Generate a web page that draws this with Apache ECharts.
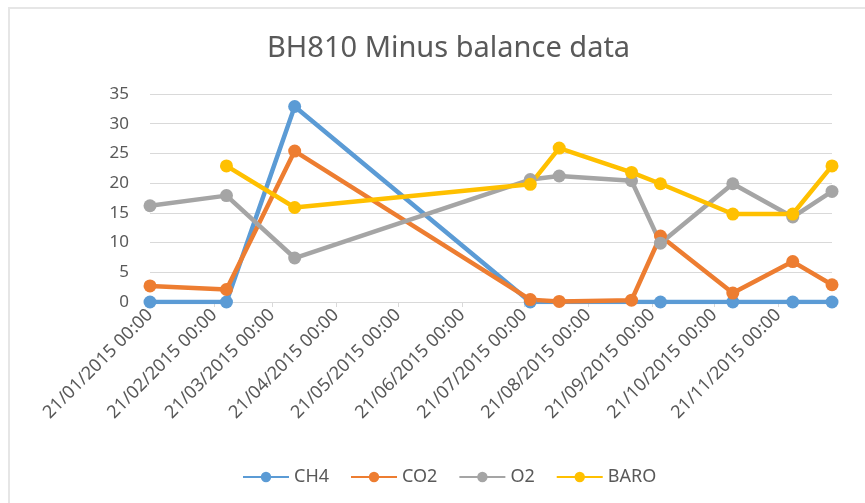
<!DOCTYPE html>
<html>
<head>
<meta charset="utf-8">
<script src="https://cdn.jsdelivr.net/npm/echarts@6/dist/echarts.min.js"></script>
<style>
  html, body { margin: 0; padding: 0; background: #fff; }
  #frame { position: absolute; left: 8px; top: 7px; width: 870px; height: 500px; border: 2px solid #e6e6e6; box-sizing: border-box; }
  #chart { position: absolute; left: 0; top: 0; width: 865px; height: 503px; }
</style>
</head>
<body>
<div id="frame"></div>
<div id="chart"></div>
<script>
// sample dates
const dates = ['2015-01-21', '2015-02-27', '2015-04-01', '2015-07-24', '2015-08-07',
  '2015-09-11', '2015-09-25', '2015-10-30', '2015-11-28', '2015-12-17'];
const ch4 = [0, 0, 32.9, 0, null, null, 0, 0, 0, 0];
const co2 = [2.7, 2.1, 25.4, 0.4, 0.1, 0.3, 11.1, 1.5, 6.8, 2.9];
const o2 = [16.2, 17.9, 7.4, 20.6, 21.2, 20.4, 9.9, 19.9, 14.3, 18.6];
const baro = [null, 22.9, 15.9, 19.8, 25.9, 21.8, 19.9, 14.8, 14.8, 22.9];
const tickDates = ['2015-01-21', '2015-02-21', '2015-03-21', '2015-04-21', '2015-05-21', '2015-06-21',
  '2015-07-21', '2015-08-21', '2015-09-21', '2015-10-21', '2015-11-21'];

const textColor = '#595959';
const font = 'Noto Sans';

const toTime = d => Date.UTC(+d.slice(0, 4), +d.slice(5, 7) - 1, +d.slice(8, 10));

function pairs(values) {
  const out = [];
  values.forEach((v, i) => { if (v !== null) out.push([toTime(dates[i]), v]); });
  return out;
}
const tickTimes = tickDates.map(toTime);

function fmt(val) {
  const d = new Date(val);
  const p = n => String(n).padStart(2, '0');
  return p(d.getUTCDate()) + '/' + p(d.getUTCMonth() + 1) + '/' + d.getUTCFullYear() + ' 00:00';
}

function line(name, values, color) {
  return {
    name: name,
    type: 'line',
    data: pairs(values),
    symbol: 'circle',
    symbolSize: 13,
    lineStyle: { color: color, width: 4.5 },
    itemStyle: { color: color },
    connectNulls: true,
    animation: false
  };
}

const chart = echarts.init(document.getElementById('chart'));
chart.setOption({
  backgroundColor: 'transparent',
  title: {
    text: 'BH810 Minus balance data',
    left: 262,
    top: 29,
    textStyle: { color: textColor, fontFamily: font, fontSize: 29, fontWeight: 'normal' }
  },
  legend: {
    bottom: 12,
    left: 237,
    itemWidth: 46,
    itemHeight: 13,
    itemGap: 21,
    textStyle: { color: textColor, fontFamily: font, fontSize: 18 },
    data: ['CH4', 'CO2', 'O2', 'BARO']
  },
  grid: { left: 150, right: 33, top: 94, bottom: 201 },
  xAxis: {
    type: 'value',
    min: toTime(dates[0]),
    max: toTime(dates[dates.length - 1]),
    axisLine: { lineStyle: { color: '#d9d9d9', width: 1 } },
    axisTick: { show: true, customValues: tickTimes, length: 5, lineStyle: { color: '#d9d9d9' } },
    axisLabel: {
      customValues: tickTimes,
      rotate: 45,
      margin: 10,
      color: textColor,
      fontFamily: font,
      fontSize: 18,
      formatter: fmt,
      hideOverlap: false
    },
    splitLine: { show: false }
  },
  yAxis: {
    type: 'value',
    min: 0,
    max: 35,
    interval: 5,
    axisLine: { show: false },
    axisTick: { show: false },
    axisLabel: { color: textColor, fontFamily: font, fontSize: 17, margin: 21 },
    splitLine: { lineStyle: { color: '#d9d9d9', width: 1 } }
  },
  series: [
    line('CH4', ch4, '#5b9bd5'),
    line('CO2', co2, '#ed7d31'),
    line('O2', o2, '#a5a5a5'),
    line('BARO', baro, '#ffc000')
  ]
});
</script>
</body>
</html>
